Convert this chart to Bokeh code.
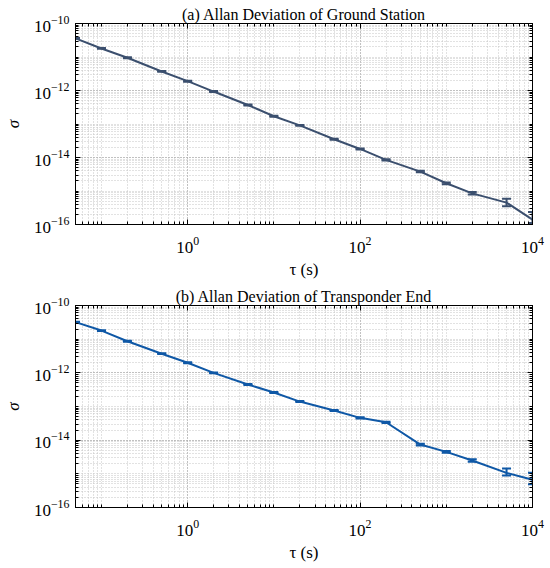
from bokeh.plotting import figure
from bokeh.layouts import column
from bokeh.models import (FixedTicker, LogAxis, Whisker, ColumnDataSource, TeeHead, LogScale,
                          Grid, LogTickFormatter)
from bokeh.embed import file_html
from bokeh.resources import INLINE

tau = [0.05, 0.1, 0.2, 0.5, 1, 2, 5, 10, 20, 50, 100, 200, 500, 1000, 2000, 5000, 10000]

sigma_ground = [3.6e-11, 1.8e-11, 9.5e-12, 3.7e-12, 1.9e-12, 9.3e-13, 3.7e-13, 1.7e-13,
                9.1e-14, 3.5e-14, 1.8e-14, 8.5e-15, 3.8e-15, 1.7e-15, 8.5e-16, 4.5e-16, 1.4e-16]
ground_lower = [3.5e-11, 1.75e-11, 9.2e-12, 3.6e-12, 1.84e-12, 9.0e-13, 3.58e-13, 1.64e-13,
                8.8e-14, 3.37e-14, 1.73e-14, 8.1e-15, 3.6e-15, 1.6e-15, 7.8e-16, 3.5e-16, 1.1e-16]
ground_upper = [3.7e-11, 1.85e-11, 9.8e-12, 3.8e-12, 1.96e-12, 9.6e-13, 3.82e-13, 1.76e-13,
                9.4e-14, 3.63e-14, 1.87e-14, 8.9e-15, 4.0e-15, 1.8e-15, 9.3e-16, 5.9e-16, 2.35e-16]

sigma_transp = [3.2e-11, 1.8e-11, 8.7e-12, 3.7e-12, 2.0e-12, 1.0e-12, 4.5e-13, 2.6e-13,
                1.4e-13, 7.6e-14, 4.6e-14, 3.4e-14, 7.4e-15, 4.5e-15, 2.5e-15, 1.07e-15, 6.7e-16]
transp_lower = [3.1e-11, 1.75e-11, 8.4e-12, 3.6e-12, 1.94e-12, 0.97e-12, 4.35e-13, 2.5e-13,
                1.35e-13, 7.3e-14, 4.4e-14, 3.25e-14, 7.0e-15, 4.2e-15, 2.3e-15, 8.9e-16, 4.9e-16]
transp_upper = [3.3e-11, 1.85e-11, 9.0e-12, 3.8e-12, 2.06e-12, 1.03e-12, 4.65e-13, 2.7e-13,
                1.45e-13, 7.9e-14, 4.8e-14, 3.55e-14, 7.8e-15, 4.8e-15, 2.7e-15, 1.45e-15, 1.07e-15]

titles = ["(a) Allan Deviation of Ground Station", "(b) Allan Deviation of Transponder End"]
colors = ["#3b4f6e", "#0f58a6"]

X_RANGE = (0.05, 10000)
Y_RANGE = (1e-16, 1e-10)
x_major = [1, 100, 10000]
y_major = [1e-16, 1e-14, 1e-12, 1e-10]

x_minor = [k * 10.0 ** n for n in range(-2, 4) for k in range(1, 10)]
x_minor = [v for v in x_minor if X_RANGE[0] <= v <= X_RANGE[1]]
y_minor = [k * 10.0 ** n for n in range(-16, -10) for k in range(1, 10)]

FONT = "Liberation Serif"


def style_axis(ax, show_labels):
    ax.major_tick_in = 5
    ax.major_tick_out = 0
    ax.minor_tick_in = 3
    ax.minor_tick_out = 0
    ax.axis_line_color = "black"
    ax.major_tick_line_color = "black"
    ax.minor_tick_line_color = "black"
    ax.major_label_text_font = FONT
    ax.major_label_text_font_style = "normal"
    ax.axis_label_text_font = FONT
    ax.axis_label_text_font_size = "17px"
    ax.axis_label_text_color = "black"
    if show_labels:
        ax.major_label_text_font_size = "17px"
        ax.major_label_text_color = "black"
    else:
        ax.major_label_text_font_size = "0px"
        ax.major_label_text_color = None
        ax.major_label_standoff = 0


def make_fig(title, ys, lo, hi, color, height, top, bottom):
    xt = FixedTicker(ticks=x_major, minor_ticks=x_minor)
    yt = FixedTicker(ticks=y_major, minor_ticks=y_minor)
    p = figure(width=550, height=height, x_axis_type=None, y_axis_type=None,
               x_range=X_RANGE, y_range=Y_RANGE,
               output_backend="svg", toolbar_location=None,
               min_border_left=66, min_border_right=18,
               min_border_top=top, min_border_bottom=bottom)
    p.x_scale = LogScale()
    p.y_scale = LogScale()
    p.title.text = title
    p.title.align = "center"
    p.title.text_font = FONT
    p.title.text_font_size = "16px"
    p.title.text_font_style = "normal"
    p.title.text_color = "black"
    p.title.standoff = 2
    p.title.offset = 0
    p.outline_line_color = "black"
    p.outline_line_width = 1

    bottom_ax = LogAxis(ticker=xt, axis_label="τ (s)", formatter=LogTickFormatter())
    left_ax = LogAxis(ticker=yt, axis_label="σ", formatter=LogTickFormatter())
    top_ax = LogAxis(ticker=xt)
    right_ax = LogAxis(ticker=yt)
    style_axis(bottom_ax, True)
    style_axis(left_ax, True)
    style_axis(top_ax, False)
    style_axis(right_ax, False)
    bottom_ax.axis_label_text_font_style = "normal"
    bottom_ax.major_label_standoff = 12
    bottom_ax.axis_label_standoff = 4
    left_ax.axis_label_text_font_style = "italic"
    left_ax.axis_label_standoff = 8
    left_ax.major_label_standoff = 6
    p.add_layout(bottom_ax, "below")
    p.add_layout(left_ax, "left")
    p.add_layout(top_ax, "above")
    p.add_layout(right_ax, "right")

    for dim, tk in ((0, xt), (1, yt)):
        g = Grid(dimension=dim, ticker=tk,
                 grid_line_color="#a0a0a0", grid_line_dash="1 2", grid_line_width=1,
                 minor_grid_line_color="#c4c4c4", minor_grid_line_dash="1 2")
        p.add_layout(g, "center")

    src = ColumnDataSource(dict(x=tau, y=ys, lo=lo, hi=hi))
    p.line("x", "y", source=src, line_color=color, line_width=2)
    w = Whisker(source=src, base="x", lower="lo", upper="hi", dimension="height",
                line_color=color, line_width=2,
                upper_head=TeeHead(size=9, line_color=color, line_width=2),
                lower_head=TeeHead(size=9, line_color=color, line_width=2))
    p.add_layout(w)
    return p


p1 = make_fig(titles[0], sigma_ground, ground_lower, ground_upper, colors[0], 282, 23, 58)
p2 = make_fig(titles[1], sigma_transp, transp_lower, transp_upper, colors[1], 286, 23, 61)

p = column(p1, p2, spacing=0)
open("out.html", "w").write(file_html(p, INLINE))
